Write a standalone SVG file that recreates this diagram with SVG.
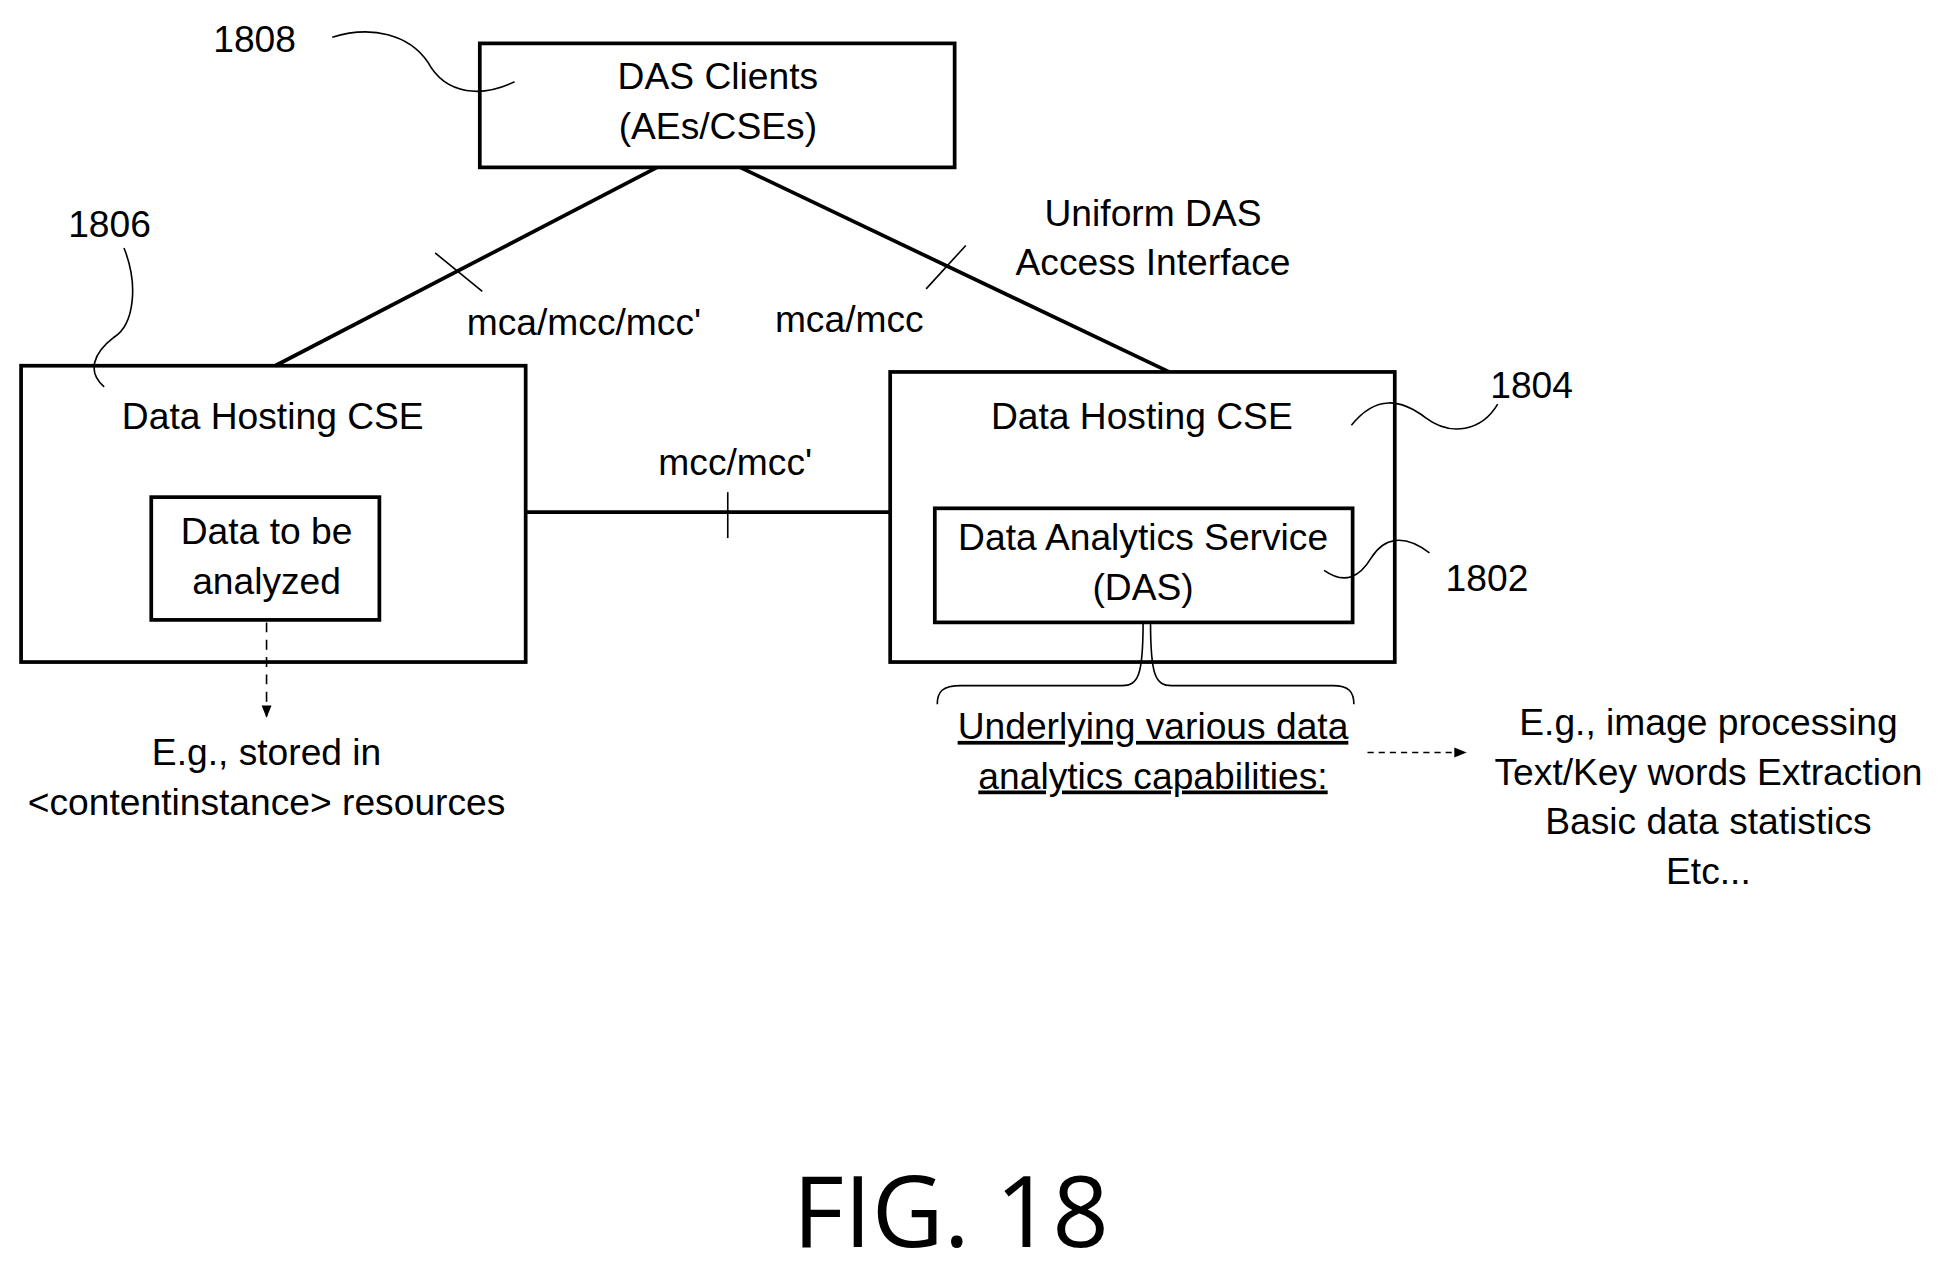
<svg xmlns="http://www.w3.org/2000/svg" width="1944" height="1278" viewBox="0 0 1944 1278">
<style>
text{font-family:"Liberation Sans",Arial,sans-serif;font-size:30px;fill:#000;text-anchor:middle}
.n{text-anchor:start}
.box{fill:none;stroke:#000;stroke-width:3}
.ln{fill:none;stroke:#000;stroke-width:3}
.th{fill:none;stroke:#000;stroke-width:1.3}
.u{text-decoration:underline}
</style>
<defs>
<marker id="ah" markerWidth="10" markerHeight="10" refX="9" refY="5" orient="auto" markerUnits="userSpaceOnUse"><path d="M0,1 L10,5 L0,9 z" fill="#000"/></marker>
</defs>
<rect width="1944" height="1278" fill="#fff"/>
<g transform="scale(1.2398)">
<g id="connectors">
<line class="ln" x1="530" y1="135" x2="222" y2="295"/>
<line class="th" x1="351" y1="204" x2="389" y2="235"/>
<line class="ln" x1="597" y1="135" x2="943" y2="300"/>
<line class="th" x1="747" y1="233" x2="779" y2="198"/>
<line class="ln" x1="424" y1="413" x2="718" y2="413"/>
<line class="th" x1="587" y1="397" x2="587" y2="434"/>
<line class="th" x1="215" y1="502" x2="215" y2="578" stroke-dasharray="8,6" marker-end="url(#ah)"/>
<line class="th" x1="1103" y1="607" x2="1182" y2="607" stroke-dasharray="5,4" marker-end="url(#ah)"/>
<path class="th" d="M756,568 C756,558 760,553 775,553 L905,553 C918,553 922,545 922,502 M928,502 C928,545 932,553 945,553 L1075,553 C1088,553 1092,558 1092,568"/>
<text x="471" y="270">mca/mcc/mcc'</text>
<text x="685" y="268">mca/mcc</text>
<text x="930" y="182">Uniform DAS</text>
<text x="930" y="222">Access Interface</text>
<text x="593" y="383">mcc/mcc'</text>
</g>
<g id="n1808">
<rect class="box" x="387" y="35" width="383" height="100"/>
<text x="579" y="72">DAS Clients</text>
<text x="579" y="112">(AEs/CSEs)</text>
<text class="n" x="172" y="42">1808</text>
<path class="th" d="M268,30 C300,20 330,28 345,50 C360,78 390,78 415,66"/>
</g>
<g id="n1806">
<rect class="box" x="17" y="295" width="407" height="239"/>
<text x="220" y="346">Data Hosting CSE</text>
<text class="n" x="55" y="191">1806</text>
<path class="th" d="M100,200 C112,230 108,262 92,272 C75,285 70,300 84,312"/>
</g>
<g id="data">
<rect class="box" x="122" y="401" width="184" height="99"/>
<text x="215" y="439">Data to be</text>
<text x="215" y="479">analyzed</text>
<text x="215" y="617">E.g., stored in</text>
<text x="215" y="657">&lt;contentinstance&gt; resources</text>
</g>
<g id="n1804">
<rect class="box" x="718" y="300" width="407" height="234"/>
<text x="921" y="346">Data Hosting CSE</text>
<text class="n" x="1202" y="321">1804</text>
<path class="th" d="M1090,343 C1110,318 1130,322 1150,337 C1170,352 1195,348 1208,326"/>
</g>
<g id="n1802">
<rect class="box" x="754" y="410" width="337" height="92"/>
<text x="922" y="444">Data Analytics Service</text>
<text x="922" y="484">(DAS)</text>
<text class="n" x="1166" y="477">1802</text>
<path class="th" d="M1068,460 C1085,472 1097,465 1106,450 C1116,434 1132,430 1153,446"/>
</g>
<g id="caps">
<text class="u" x="930" y="596">Underlying various data</text>
<text class="u" x="930" y="636">analytics capabilities:</text>
<text x="1378" y="593">E.g., image processing</text>
<text x="1378" y="633">Text/Key words Extraction</text>
<text x="1378" y="673">Basic data statistics</text>
<text x="1378" y="713">Etc...</text>
</g>
<text x="767" y="1006" style="font-family:'Open Sans','DejaVu Sans',sans-serif;font-size:80px">FIG. 18</text>
</g>
</svg>
